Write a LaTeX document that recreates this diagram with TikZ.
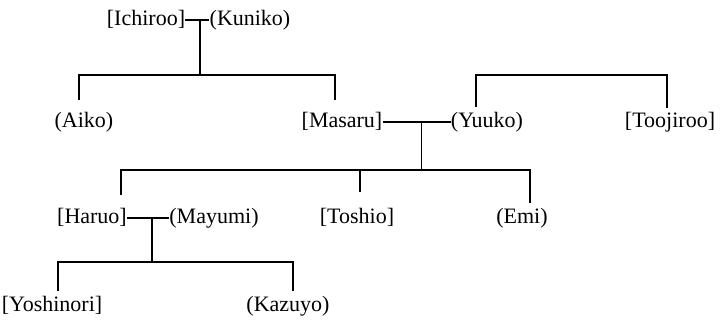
\documentclass[tikz,border=0pt]{standalone}
\usepackage{fontspec}
\setmainfont{Liberation Serif}
\usetikzlibrary{calc}

\newcommand{\RowOne}{20}
\newcommand{\RowTwo}{122}
\newcommand{\RowThree}{218}
\newcommand{\RowFour}{306}

\begin{document}
\begin{tikzpicture}[
  x = 0.5pt, y = -0.5pt,
  person/.style={inner sep=0pt, text height=8pt, text depth=2.5pt, font=\fontsize{11}{13}\selectfont},
  line/.style={line width=0.8pt,black},
  ]
	\useasboundingbox (0,0) rectangle (720,320);

	%draw the people
	\node[person] (ichiroo) at (146,\RowOne) {[Ichiroo]};
	\node[person] (kuniko) at (250,\RowOne) {(Kuniko)};

	\node[person] (aiko) at (84,\RowTwo) {(Aiko)};
	\node[person] (masaru) at (342,\RowTwo) {[Masaru]};
	\node[person] (yuuko) at (487,\RowTwo) {(Yuuko)};
	\node[person] (toojiroo) at (670,\RowTwo) {[Toojiroo]};

	\node[person] (haruo) at (92,\RowThree) {[Haruo]};
	\node[person] (mayumi) at (214,\RowThree) {(Mayumi)};
	\node[person] (toshio) at (357,\RowThree) {[Toshio]};
	\node[person] (emi) at (522,\RowThree) {(Emi)};

	\node[person] (yoshinori) at (52,\RowFour) {[Yoshinori]};
	\node[person] (kazuyo) at (288,\RowFour) {(Kazuyo)};

	%draw the marriages
	\draw[line] (ichiroo.east) -- (kuniko.west);
	\draw[line] (masaru.east) -- (yuuko.west);
	\draw[line] (haruo.east) -- (mayumi.west);

	\coordinate (m1) at ($(ichiroo.east)!.62!(kuniko.west)$);
	\coordinate (m2) at ($(masaru.east)!.57!(yuuko.west)$);
	\coordinate (m3) at ($(haruo.east)!.59!(mayumi.west)$);
	\coordinate (b1) at ($(m1)+(0,55)$);
	\coordinate (b2) at ($(m2)+(0,48)$);
	\coordinate (b3) at ($(m3)+(0,44)$);
	\coordinate (t) at ($(toshio.center)+(3,-26)$);

	%draw the children of Ichiroo and Kuniko
	\draw[line] (m1) -- (b1);
	\draw[line] ($(aiko.center)+(-5,-22)$) |- (b1) -| ($(masaru.center)+(-7,-22)$);

	%draw the bracket over Yuuko and Toojiroo
	\draw[line] ($(yuuko.center)+(-11,-15)$) -- ++(0,-32) -| ($(toojiroo.center)+(-3,-14)$);

	%draw the children of Masaru and Yuuko
	\draw[line] (m2) -- (b2);
	\draw[line] ($(haruo.center)+(29,-23)$) |- (b2) -| ($(emi.center)+(8,-15)$);
	\draw[line] (t) -- (t |- b2);

	%draw the children of Haruo and Mayumi
	\draw[line] (m3) -- (b3);
	\draw[line] ($(yoshinori.center)+(6,-15)$) |- (b3) -| ($(kazuyo.center)+(5,-15)$);

\end{tikzpicture}
\end{document}
